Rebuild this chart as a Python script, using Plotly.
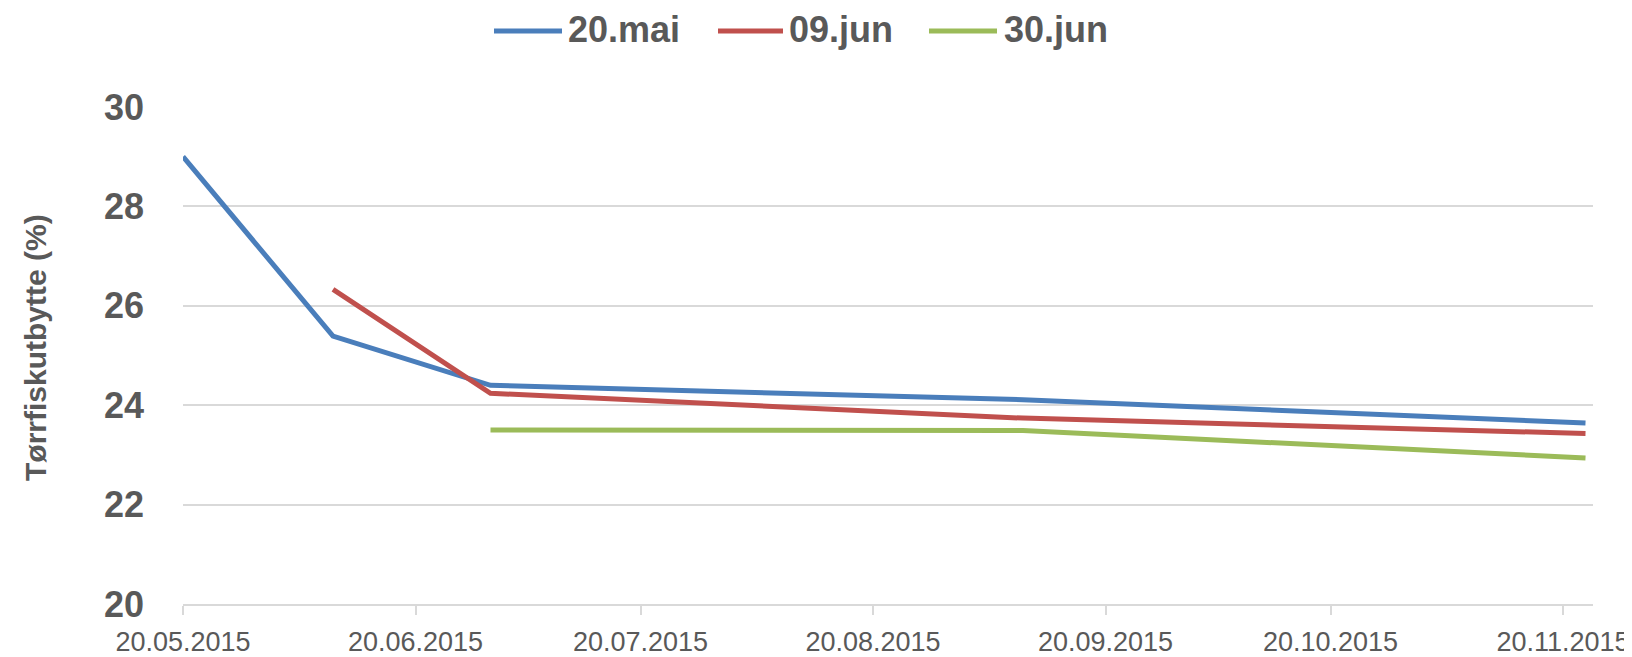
import plotly.graph_objects as go

# ---- data ----
dates_mai = ["2015-05-20", "2015-06-09", "2015-06-30", "2015-09-09", "2015-11-23"]
vals_mai = [29.0, 25.39, 24.40, 24.11, 23.64]

dates_jun09 = ["2015-06-09", "2015-06-30", "2015-09-09", "2015-11-23"]
vals_jun09 = [26.33, 24.24, 23.74, 23.43]

dates_jun30 = ["2015-06-30", "2015-09-09", "2015-11-23"]
vals_jun30 = [23.50, 23.49, 22.94]

series_names = ["20.mai", "09.jun", "30.jun"]
colors = ["#4a7ebb", "#c0504d", "#9bbb59"]

x_tickvals = ["2015-05-20", "2015-06-20", "2015-07-20", "2015-08-20",
              "2015-09-20", "2015-10-20", "2015-11-20"]
x_ticktext = ["20.05.2015", "20.06.2015", "20.07.2015", "20.08.2015",
              "20.09.2015", "20.10.2015", "20.11.2015"]
y_ticks = [20, 22, 24, 26, 28, 30]
y_title = "Tørrfiskutbytte (%)"

W, H = 1632, 657
OFF = 8  # page body margin
L, R, T, B = 183 - OFF, 47, 107 - OFF, 61
TXT = "#595959"
FONT = "Liberation Sans"

fig = go.Figure()
for d, v, n, c in zip([dates_mai, dates_jun09, dates_jun30],
                      [vals_mai, vals_jun09, vals_jun30], series_names, colors):
    fig.add_trace(go.Scatter(x=d, y=v, mode="lines", name=n,
                             line=dict(color=c, width=5), showlegend=False))

# manual legend (paper coordinates derived from page pixels)
pw = W - L - R
ph = H - T - B
def px(x):
    return (x - OFF - L) / pw
def py(y):
    return (H - B - (y - OFF)) / ph

legend_items = [(494, 562, 566), (718, 783, 787), (929, 997, 1002)]
for (x0, x1, xt), n, c in zip(legend_items, series_names, colors):
    fig.add_shape(type="line", xref="paper", yref="paper",
                  x0=px(x0), x1=px(x1), y0=py(31), y1=py(31),
                  line=dict(color=c, width=5))
    fig.add_annotation(text=n, xref="paper", yref="paper", x=px(xt), y=py(30),
                       xanchor="left", yanchor="middle", showarrow=False,
                       font=dict(family=FONT, size=36, color=TXT, weight="bold"))

# y-axis title as rotated text
fig.add_annotation(text=y_title, xref="paper", yref="paper", x=px(35), y=py(348),
                   xanchor="center", yanchor="middle", showarrow=False, textangle=-90,
                   font=dict(family=FONT, size=30, color=TXT, weight="bold"))

fig.update_layout(
    width=W, height=H,
    margin=dict(l=L, r=R, t=T, b=B, autoexpand=False),
    paper_bgcolor="white", plot_bgcolor="white",
    xaxis=dict(
        type="date", range=["2015-05-20", "2015-11-24"],
        tickvals=x_tickvals, ticktext=x_ticktext,
        showgrid=False, showline=True, linecolor="#d9d9d9", linewidth=1.5,
        ticks="outside", ticklen=9, tickcolor="#d9d9d9", tickwidth=1.5,
        tickfont=dict(family=FONT, size=27, color=TXT),
        ticklabelstandoff=4,
        ticklabeloverflow="allow", automargin=False,
        zeroline=False,
    ),
    yaxis=dict(
        range=[20, 30], tickvals=y_ticks,
        showgrid=True, gridcolor="#d9d9d9", gridwidth=1.5,
        showline=False, zeroline=False, ticks="",
        ticklabelstandoff=38, automargin=False,
        tickfont=dict(family=FONT, size=36, color=TXT, weight="bold"),
    ),
)

fig.write_html("out.html")
